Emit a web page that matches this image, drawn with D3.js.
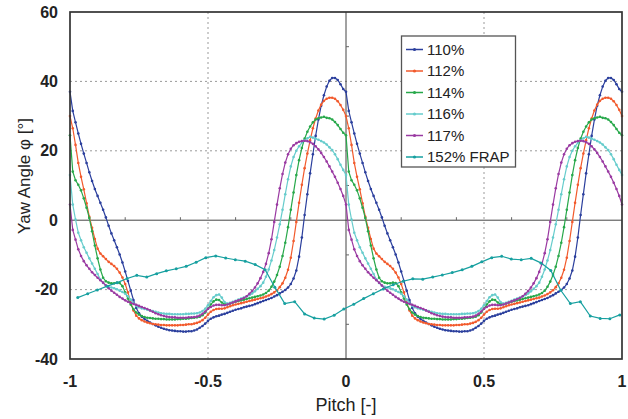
<!DOCTYPE html>
<html><head><meta charset="utf-8">
<script src="https://cdn.jsdelivr.net/npm/d3@7"></script>
<style>body{margin:0;background:#fff}</style>
</head><body><svg id="c" width="628" height="419"></svg>
<script>
// Yaw angle over one pitch period (phase 0.00 .. 0.99, step 0.01); the figure shows the same period twice (-1..0 and 0..1)
const s110 = [37,31.5,28.2,25,22,19.2,16.5,13.8,11.3,9,7,5,3,0.8,-1.6,-3.8,-5.8,-7.8,-9.9,-12.2,
 -14.8,-17.5,-20.3,-23,-25.3,-26.8,-27.8,-28.5,-29,-29.5,-29.9,-30.3,-30.7,-31,-31.3,-31.5,-31.7,-31.8,-31.9,-32,
 -32,-32.1,-32.1,-32,-32,-31.8,-31.5,-31,-30.5,-29.8,-29,-28.4,-28,-27.7,-27.5,-27.2,-27,-26.7,-26.4,-26.1,
 -25.8,-25.6,-25.4,-25.1,-24.9,-24.7,-24.5,-24.2,-23.9,-23.6,-23.3,-23,-22.7,-22.4,-22,-21.6,-21.1,-20.6,-20.1,-19.4,
 -18.4,-16.8,-14.5,-10.5,-5,1.5,7.5,13.5,19,24.3,29,33,36,38.5,40.2,41,41,40.4,39.2,37.8];
const s112 = [30,26.5,21.7,16.5,12.5,8.9,4.9,1,-2.2,-5.4,-8.2,-9.6,-10.4,-11.2,-12,-12.6,-13.2,-14,-15.1,-16.5,
 -18.4,-20.8,-23.8,-26,-27.5,-28.3,-28.8,-29.2,-29.5,-29.7,-29.9,-30,-30.1,-30.2,-30.2,-30.3,-30.3,-30.3,-30.3,-30.3,
 -30.2,-30.2,-30.1,-30,-30,-29.8,-29.6,-29.3,-28.8,-28.1,-27.2,-26.4,-25.9,-25.6,-25.5,-25.5,-25.4,-25.1,-24.8,-24.5,
 -24.3,-24.1,-23.9,-23.7,-23.5,-23.3,-23.1,-22.9,-22.7,-22.5,-22.3,-22,-21.7,-21.3,-20.8,-20.2,-19.3,-18.2,-16.6,-14.3,
 -10.8,-6,-0.5,5,10.2,15,19.2,23,26.5,29.3,31.6,33.3,34.4,35,35.3,35.3,35,34.3,33.2,31.8];
const s114 = [24.5,14,11.5,10.2,8.6,6.3,3.6,0.6,-3.2,-7.3,-11,-14.2,-16.6,-17.6,-18,-18.2,-18.2,-18,-18.1,-19,
 -20.8,-22.6,-24.3,-25.6,-26.6,-27.2,-27.6,-27.9,-28.1,-28.2,-28.3,-28.4,-28.4,-28.5,-28.5,-28.6,-28.6,-28.6,-28.6,-28.5,
 -28.5,-28.4,-28.4,-28.3,-28.2,-28.1,-28,-27.8,-27.4,-26.6,-25.5,-24.3,-23.4,-22.9,-23,-23.7,-24.2,-24.2,-24,-23.7,
 -23.5,-23.3,-23.1,-22.9,-22.7,-22.5,-22.3,-22.1,-21.9,-21.7,-21.4,-21,-20.3,-19.2,-17.7,-15.8,-13.4,-10.3,-6.5,-2,
 3,8,13,17.3,20.8,23.5,25.5,27,28.2,29,29.4,29.6,29.8,29.5,29.4,29,28.3,27.4,26.3,25.2];
const s116 = [13,4.5,0.2,-3.6,-5.8,-7.8,-9.4,-11,-12.5,-14,-15.5,-17,-18.1,-18.8,-19.2,-19.4,-19.6,-19.9,-20.3,-20.7,
 -21.2,-21.9,-22.9,-23.9,-24.7,-25.1,-25.4,-25.6,-25.8,-26,-26.2,-26.4,-26.6,-26.8,-26.9,-27,-27,-27.1,-27.1,-27.1,
 -27.1,-27.1,-27,-27,-26.9,-26.9,-26.8,-26.6,-26.2,-25.5,-24.5,-23.3,-22.2,-21.6,-21.4,-22.3,-23.6,-24,-23.8,-23.5,
 -23.2,-22.9,-22.6,-22.3,-22,-21.6,-21.1,-20.5,-19.8,-19,-18,-16.3,-14.2,-11.6,-8.6,-5,-1.2,3,7.5,11.8,
 15.5,18.2,20,21.3,22.3,23,23.6,24,23.8,23.5,23.2,22.8,22.4,21.8,21,20.2,19,17.6,16,14.5];
const s117 = [4.5,-2.8,-5.6,-8.4,-10.3,-11.8,-13,-14,-15,-15.8,-16.6,-17.3,-18,-18.8,-19.6,-20.3,-20.9,-21.5,-22.1,-22.6,
 -23.1,-23.5,-23.8,-24.1,-24.4,-24.7,-25,-25.3,-25.6,-26,-26.4,-26.8,-27.1,-27.4,-27.6,-27.8,-27.9,-28,-28,-28.1,
 -28.1,-28.1,-28.1,-28,-28,-27.9,-27.8,-27.5,-27,-26.3,-25.5,-25,-24.6,-24.4,-24.4,-24.5,-24.5,-24.3,-24,-23.7,
 -23.4,-23.1,-22.8,-22.4,-21.9,-21.2,-20.4,-19.4,-18.2,-16.7,-14.9,-12.6,-9.5,-5.5,-0.5,4.5,9.2,13.3,16.6,19,
 20.6,21.6,22.2,22.6,22.8,22.9,22.8,22.5,22,21.3,20.4,19.4,18.2,16.9,15.5,14,12.5,10.8,9,7];
// 152% FRAP measurement (own pitch positions)
const frapPitch = [-0.972,-0.936,-0.901,-0.865,-0.829,-0.793,-0.758,-0.722,-0.686,-0.651,-0.615,-0.579,-0.543,-0.508,
 -0.472,-0.436,-0.401,-0.365,-0.329,-0.293,-0.258,-0.222,-0.186,-0.15,-0.115,-0.079,-0.043,-0.008,
 0.028,0.064,0.099,0.135,0.171,0.207,0.242,0.278,0.314,0.349,0.385,0.421,0.456,0.492,0.528,0.564,
 0.599,0.635,0.671,0.706,0.742,0.778,0.813,0.849,0.885,0.921,0.956,0.992];
const frapYaw = [-22.3,-21.2,-20.1,-19,-18,-16.8,-15.9,-16.4,-15.4,-14.6,-14,-13.3,-12.1,-10.8,
 -10.3,-10.9,-11.4,-11.8,-12.8,-14.3,-19.3,-24,-23.5,-27,-28.2,-28.5,-27.4,-25.6,
 -24.2,-22.6,-21.2,-19.8,-18.6,-17.6,-16.9,-17,-16.4,-15.8,-15.1,-14.3,-13.3,-12,-10.8,-10.4,
 -11.2,-11.4,-11,-12.3,-14.5,-20.2,-24,-23.5,-27.6,-28.3,-28.4,-27.3];

const seriesNames = ["110%","112%","114%","116%","117%","152% FRAP"];
const seriesColors = ["#2b3f9d","#f25a2c","#27a84a","#66cccc","#9a3aa2","#17a0a0"];
const periodSeries = [s110,s112,s114,s116,s117];
const xTicks = [-1,-0.5,0,0.5,1];
const xTickLabels = ["-1","-0.5","0","0.5","1"];
const yTicks = [-40,-20,0,20,40,60];

const svg = d3.select("#c");
const x = d3.scaleLinear().domain([-1,1]).range([70,622]);
const y = d3.scaleLinear().domain([-40,60]).range([359,12]);

// grid
const g = svg.append("g");
[-20,20,40].forEach(v=>g.append("line").attr("x1",x(-1)).attr("x2",x(1)).attr("y1",y(v)).attr("y2",y(v))
  .attr("stroke","#9a9a9a").attr("stroke-width",1).attr("stroke-dasharray","2,3"));
[-0.5,0.5].forEach(v=>g.append("line").attr("y1",y(-40)).attr("y2",y(60)).attr("x1",x(v)).attr("x2",x(v))
  .attr("stroke","#9a9a9a").attr("stroke-width",1).attr("stroke-dasharray","2,3"));
// zero lines
g.append("line").attr("x1",x(-1)).attr("x2",x(1)).attr("y1",y(0)).attr("y2",y(0)).attr("stroke","#444").attr("stroke-width",1);
g.append("line").attr("y1",y(-40)).attr("y2",y(60)).attr("x1",x(0)).attr("x2",x(0)).attr("stroke","#444").attr("stroke-width",1);
// minor ticks on zero lines
[-0.8,-0.6,-0.4,-0.2,0.2,0.4,0.6,0.8].forEach(v=>g.append("line").attr("x1",x(v)).attr("x2",x(v))
  .attr("y1",y(0)-3).attr("y2",y(0)).attr("stroke","#666").attr("stroke-width",1));
[-30,-10,10,30,50].forEach(v=>g.append("line").attr("x1",x(0)).attr("x2",x(0)+3)
  .attr("y1",y(v)).attr("y2",y(v)).attr("stroke","#666").attr("stroke-width",1));

// series
const line = d3.line().x(d=>x(d[0])).y(d=>y(d[1]));
periodSeries.forEach((vals,si)=>{
  const pts = [];
  for (let k=0;k<=200;k++) pts.push([-1+k/100, vals[k%100]]);
  svg.append("path").datum(pts).attr("d",line).attr("fill","none")
    .attr("stroke",seriesColors[si]).attr("stroke-width",1.2);
  svg.append("g").selectAll("circle").data(pts).join("circle")
    .attr("cx",d=>x(d[0])).attr("cy",d=>y(d[1])).attr("r",1.3).attr("fill",seriesColors[si]);
});
const frap = frapPitch.map((p,i)=>[p,frapYaw[i]]);
svg.append("path").datum(frap).attr("d",line).attr("fill","none").attr("stroke",seriesColors[5]).attr("stroke-width",1.2);
svg.append("g").selectAll("circle").data(frap).join("circle")
  .attr("cx",d=>x(d[0])).attr("cy",d=>y(d[1])).attr("r",1.5).attr("fill",seriesColors[5]);

// frame
svg.append("rect").attr("x",x(-1)).attr("y",y(60)).attr("width",x(1)-x(-1)).attr("height",y(-40)-y(60))
  .attr("fill","none").attr("stroke","#333").attr("stroke-width",1.7);

// axes labels
const font = "Liberation Sans, Arial, sans-serif";
svg.append("g").selectAll("text").data(yTicks).join("text")
  .attr("x",58).attr("y",d=>y(d)).attr("dy","0.35em").attr("text-anchor","end")
  .attr("font-family",font).attr("font-size",16).attr("font-weight","bold").attr("fill","#222").text(d=>d);
svg.append("g").selectAll("text").data(xTicks).join("text")
  .attr("x",d=>x(d)).attr("y",381).attr("dy","0.35em").attr("text-anchor","middle")
  .attr("font-family",font).attr("font-size",16).attr("font-weight","bold").attr("fill","#222").text((d,i)=>xTickLabels[i]);
svg.append("text").attr("x",346).attr("y",405).attr("dy","0.35em").attr("text-anchor","middle")
  .attr("font-family",font).attr("font-size",18).attr("fill","#222").text("Pitch [-]");
svg.append("text").attr("transform","translate(24.5,176) rotate(-90)").attr("dy","0.35em").attr("text-anchor","middle")
  .attr("font-family",font).attr("font-size",17).attr("fill","#222").text("Yaw Angle φ [°]");

// legend
const lg = svg.append("g");
lg.append("rect").attr("x",401.5).attr("y",36).attr("width",114).attr("height",131)
  .attr("fill","#fff").attr("stroke","#555").attr("stroke-width",1.3);
seriesNames.forEach((n,i)=>{
  const yy = 49.5 + i*21.5;
  lg.append("line").attr("x1",406).attr("x2",423).attr("y1",yy).attr("y2",yy).attr("stroke",seriesColors[i]).attr("stroke-width",1.5);
  lg.append("circle").attr("cx",414.5).attr("cy",yy).attr("r",1.6).attr("fill",seriesColors[i]);
  lg.append("text").attr("x",427).attr("y",yy).attr("dy","0.35em").attr("font-family",font).attr("font-size",15)
    .attr("fill","#222").text(n);
});
</script></body></html>
